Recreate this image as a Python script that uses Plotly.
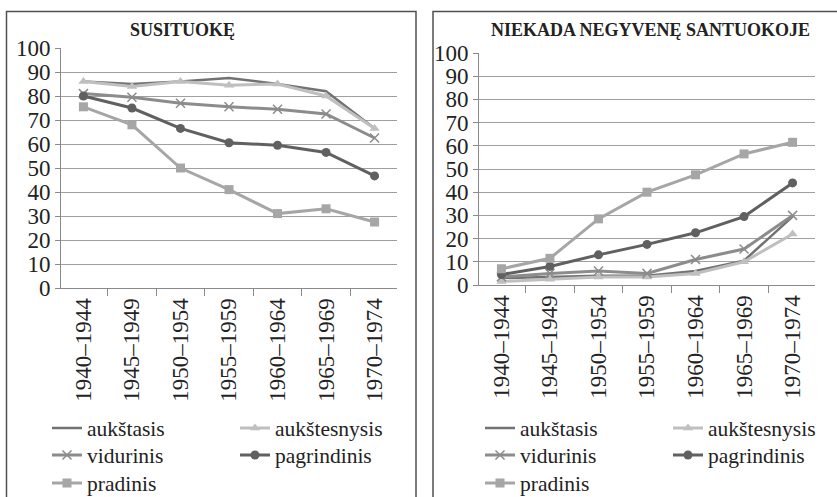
import plotly.graph_objects as go

categories = ["1940–1944", "1945–1949", "1950–1954", "1955–1959", "1960–1964", "1965–1969", "1970–1974"]
series_names = ["aukštasis", "aukštesnysis", "vidurinis", "pagrindinis", "pradinis"]

# SUSITUOKĘ
married_aukstasis = [86, 85, 86, 87.5, 85, 82, 66.5]
married_aukstesnysis = [86, 84, 86, 84.5, 85, 80, 66.5]
married_vidurinis = [81, 79.5, 77, 75.5, 74.5, 72.5, 62.5]
married_pagrindinis = [80, 75, 66.5, 60.5, 59.5, 56.5, 46.7]
married_pradinis = [75.5, 68, 50, 41, 31, 33, 27.5]

# NIEKADA NEGYVENĘ SANTUOKOJE
never_aukstasis = [3, 3.5, 4, 4, 6, 10.5, 29.5]
never_aukstesnysis = [1.5, 2.5, 3.5, 3.5, 5, 10, 22]
never_vidurinis = [3.5, 5, 6, 5, 11, 15.5, 30]
never_pagrindinis = [4.5, 8, 13, 17.5, 22.5, 29.5, 44]
never_pradinis = [7, 11.5, 28.5, 40, 47.5, 56.5, 61.5]

titles = ["SUSITUOKĘ", "NIEKADA NEGYVENĘ SANTUOKOJE"]

W, H = 837, 497
FONT = "Liberation Serif"

styles = {
    "aukštasis": dict(color="#727272", symbol=None, width=2.5),
    "aukštesnysis": dict(color="#bfbfbf", symbol="triangle-up", width=3),
    "vidurinis": dict(color="#8c8c8c", symbol="x-thin", width=3),
    "pagrindinis": dict(color="#606060", symbol="circle", width=3),
    "pradinis": dict(color="#a6a6a6", symbol="square", width=3),
}

fig = go.Figure()

panels = [
    dict(data=[married_aukstasis, married_aukstesnysis, married_vidurinis, married_pagrindinis, married_pradinis],
         xa="x", ya="y", px=(61, 397), py=(48, 288), legends=["legend", "legend2", "legend3"], lx=47),
    dict(data=[never_aukstasis, never_aukstesnysis, never_vidurinis, never_pagrindinis, never_pradinis],
         xa="x2", ya="y2", px=(479, 815), py=(53, 285), legends=["legend4", "legend5", "legend6"], lx=480),
]

row_of = [0, 0, 1, 1, 2]
for p in panels:
    for i, name in enumerate(series_names):
        st = styles[name]
        mode = "lines" if st["symbol"] is None else "lines+markers"
        marker = dict(color=st["color"], size=9)
        if st["symbol"]:
            marker["symbol"] = st["symbol"]
            if st["symbol"] == "x-thin":
                marker["line"] = dict(color=st["color"], width=1.5)
                marker["size"] = 9
        fig.add_trace(go.Scatter(
            x=categories, y=p["data"][i], name=name, mode=mode,
            line=dict(color=st["color"], width=st["width"]),
            marker=marker, xaxis=p["xa"], yaxis=p["ya"],
            legend=p["legends"][row_of[i]], showlegend=True,
        ))

def xd(a, b):
    return [a / W, b / W]

def yd(top, bottom):
    return [(H - bottom) / H, (H - top) / H]

axis_common_x = dict(
    type="category", showgrid=False, showline=True, linecolor="#8a8a8a", linewidth=1,
    ticks="outside", tickson="boundaries", ticklen=7, tickcolor="#8a8a8a",
    tickangle=-90, tickfont=dict(family=FONT, size=23, color="#222"),
    automargin=False, fixedrange=True,
)
axis_common_y = dict(
    range=[0, 100], dtick=10, showgrid=True, gridcolor="#a0a0a0", gridwidth=1,
    showline=True, linecolor="#8a8a8a", linewidth=1, ticks="outside", ticklen=5,
    tickcolor="#8a8a8a", tickfont=dict(family=FONT, size=23, color="#222"),
    zeroline=False, automargin=False, fixedrange=True,
)

fig.update_layout(
    xaxis=dict(domain=xd(*panels[0]["px"]), anchor="y", **axis_common_x),
    yaxis=dict(domain=yd(*panels[0]["py"]), anchor="x", **axis_common_y),
    xaxis2=dict(domain=xd(*panels[1]["px"]), anchor="y2", **axis_common_x),
    yaxis2=dict(domain=yd(*panels[1]["py"]), anchor="x2", **axis_common_y),
)

row_y = [428, 455, 483]
for p in panels:
    for r, lg in enumerate(p["legends"]):
        fig.update_layout({lg: dict(
            orientation="h", x=p["lx"] / W, xanchor="left",
            y=(H - row_y[r]) / H, yanchor="middle",
            entrywidth=143, entrywidthmode="pixels",
            font=dict(family=FONT, size=21.5, color="#222"),
            bgcolor="rgba(0,0,0,0)", borderwidth=0, tracegroupgap=0,
            itemclick=False, itemdoubleclick=False,
        )})

# panel borders
fig.add_shape(type="rect", xref="paper", yref="paper",
              x0=6.5 / W, x1=416 / W, y0=-0.1, y1=(H - 11.5) / H,
              line=dict(color="#505050", width=1.5))
fig.add_shape(type="rect", xref="paper", yref="paper",
              x0=433 / W, x1=1.1, y0=-0.1, y1=(H - 11.5) / H,
              line=dict(color="#505050", width=1.5))

fig.add_annotation(text="<b>" + titles[0] + "</b>", xref="paper", yref="paper",
                   x=182 / W, y=(H - 30) / H, xanchor="center", yanchor="middle",
                   showarrow=False, font=dict(family=FONT, size=18, color="#222"))
fig.add_annotation(text="<b>" + titles[1] + "</b>", xref="paper", yref="paper",
                   x=650 / W, y=(H - 30) / H, xanchor="center", yanchor="middle",
                   showarrow=False, font=dict(family=FONT, size=18, color="#222"))

fig.update_layout(
    width=W, height=H, margin=dict(l=0, r=0, t=0, b=0, autoexpand=False),
    paper_bgcolor="white", plot_bgcolor="white",
    font=dict(family=FONT),
)

fig.write_html("out.html", config={"displayModeBar": False},
               post_script="document.body.style.margin='0';document.body.style.overflow='hidden';")
